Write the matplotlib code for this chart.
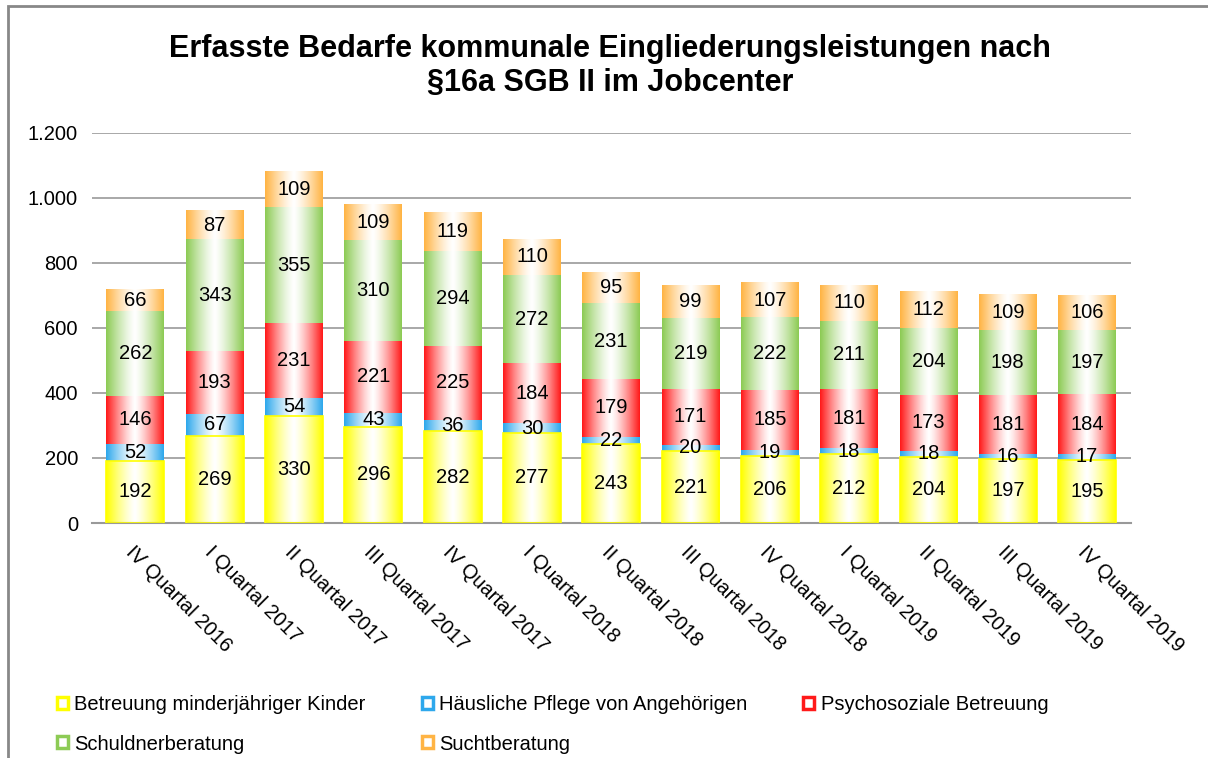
import matplotlib.pyplot as plt
import matplotlib.patches as mpatches
from matplotlib.colors import to_rgb
import numpy as np

plt.rcParams['font.family'] = ['Liberation Sans', 'DejaVu Sans']

quarters = ['IV Quartal 2016', 'I Quartal 2017', 'II Quartal 2017', 'III Quartal 2017',
            'IV Quartal 2017', 'I Quartal 2018', 'II Quartal 2018', 'III Quartal 2018',
            'IV Quartal 2018', 'I Quartal 2019', 'II Quartal 2019', 'III Quartal 2019',
            'IV Quartal 2019']
kinder = [192, 269, 330, 296, 282, 277, 243, 221, 206, 212, 204, 197, 195]
pflege = [52, 67, 54, 43, 36, 30, 22, 20, 19, 18, 18, 16, 17]
psycho = [146, 193, 231, 221, 225, 184, 179, 171, 185, 181, 173, 181, 184]
schuld = [262, 343, 355, 310, 294, 272, 231, 219, 222, 211, 204, 198, 197]
sucht = [66, 87, 109, 109, 119, 110, 95, 99, 107, 110, 112, 109, 106]

series = ['Betreuung minderjähriger Kinder', 'Häusliche Pflege von Angehörigen',
          'Psychosoziale Betreuung', 'Schuldnerberatung', 'Suchtberatung']
colors = ['#FFFF00', '#2EA8EC', '#FF1A1A', '#8DCB55', '#FFB444']


def gradient(color, n=64):
    c = np.array(to_rgb(color))
    t = np.abs(np.linspace(-1, 1, n)) ** 1.3
    img = (1 - t)[:, None] * np.ones(3) + t[:, None] * c
    return img[None, :, :]


fig = plt.figure(figsize=(12.08, 7.58), dpi=100)
ax = fig.add_axes([0.076, 0.31, 0.86, 0.515])

x = np.arange(len(quarters))
bottom = np.zeros(len(quarters))
for vals, name, col in zip([kinder, pflege, psycho, schuld, sucht], series, colors):
    vals = np.array(vals)
    bars = ax.bar(x, vals, 0.73, bottom=bottom, facecolor='none',
                  edgecolor=col if col == '#FFFF00' else 'none', lw=1.2, zorder=3)
    img = gradient(col)
    for b in bars:
        x0, y0 = b.get_x(), b.get_y()
        ax.imshow(img, extent=[x0, x0 + b.get_width(), y0, y0 + b.get_height()],
                  aspect='auto', zorder=2, interpolation='bilinear')
    for xi, v, bt in zip(x, vals, bottom):
        ax.text(xi, bt + v / 2, str(v), ha='center', va='center', fontsize=14.5, zorder=4)
    bottom = bottom + vals

ax.set_xlim(-0.55, len(quarters) - 0.45)
ax.set_ylim(0, 1200)
ax.set_yticks(range(0, 1201, 200))
ax.set_yticklabels(['0', '200', '400', '600', '800', '1.000', '1.200'], fontsize=14.5)
ax.set_xticks(x)
ax.set_xticklabels(quarters, rotation=-45, ha='left', va='top', rotation_mode='anchor', fontsize=14.5)
ax.tick_params(length=0, pad=10)
ax.tick_params(axis='x', pad=14)
ax.grid(axis='y', color='#999999', lw=1.2, zorder=0)
ax.set_axisbelow(True)
for s in ['top', 'right', 'left']:
    ax.spines[s].set_visible(False)
ax.spines['bottom'].set_color('#999999')
ax.spines['bottom'].set_linewidth(1.5)

fig.text(0.505, 0.913, 'Erfasste Bedarfe kommunale Eingliederungsleistungen nach\n§16a SGB II im Jobcenter',
         ha='center', va='center', fontsize=22, fontweight='bold', linespacing=1.15)

# legend fills column by column, so order items to read row by row
order = [0, 3, 1, 4, 2]
handles = [mpatches.Patch(facecolor='white', edgecolor=colors[i], lw=2.5) for i in order]
labels = [series[i] for i in order]
fig.legend(handles, labels, loc='lower left', bbox_to_anchor=(0.032, -0.018), ncol=3,
           frameon=False, fontsize=14.5, handlelength=0.55, handleheight=0.55,
           handletextpad=0.3, columnspacing=2.8, labelspacing=1.0)

fig.patches.append(mpatches.Rectangle((8 / 1208, -0.1), 1.2, 1.1 - 6 / 758, transform=fig.transFigure,
                                      fill=False, edgecolor='#888888', lw=2))

fig.savefig('out.png', dpi=100)
